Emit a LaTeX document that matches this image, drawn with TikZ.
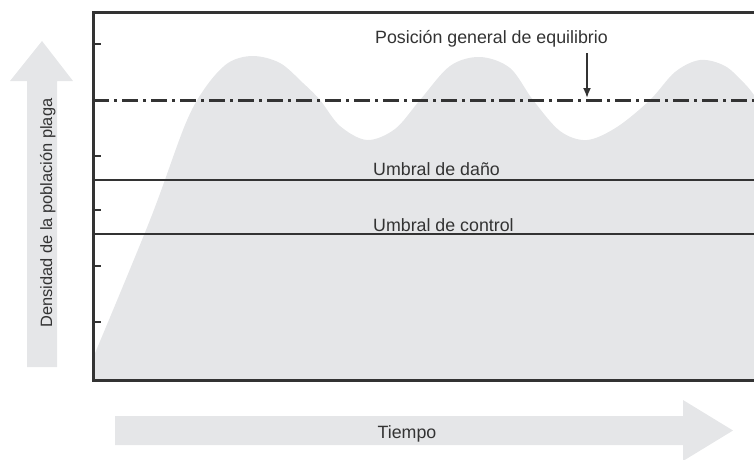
\documentclass[tikz,border=0pt]{standalone}
\usepackage{fontspec}
\setmainfont{Liberation Sans}
\usetikzlibrary{arrows.meta}
\definecolor{areagray}{HTML}{E5E6E8}
\definecolor{inkgray}{HTML}{333333}
\tikzset{
  frameline/.style={draw=inkgray, line width=3pt},
  threshline/.style={draw=inkgray, line width=2.2pt},
  eqline/.style={draw=inkgray, line width=3pt, dash pattern=on 16pt off 5pt on 3pt off 5pt},
  tickline/.style={draw=inkgray, line width=2.2pt},
  lbl/.style={inner sep=0pt, text=inkgray, font=\fontsize{17.8}{20}\selectfont},
  bigarrow/.style={fill=areagray, draw=none}
}
\begin{document}
\begin{tikzpicture}[x=1pt,y=-1pt]
\useasboundingbox (0,0) rectangle (754,459);
% population area
\fill[areagray] (93,380) -- plot[smooth, tension=0.55] coordinates {
 (93,358) (150,220) (185,125) (205,88) (228,63) (253,56) (280,63) (303,83)
 (320,100) (340,126) (367,140) (395,129) (420,100) (450,66) (480,57)
 (510,68) (533,100) (560,131) (587,140) (617,127) (650,100) (675,72)
 (700,60) (725,66) (745,84) (754,95)} -- (754,380) -- cycle;
% axis arrows
\fill[bigarrow] (27,367) -- (27,81) -- (10,81) -- (42,41) -- (73,81) -- (57,81) -- (57,367) -- cycle;
\fill[bigarrow] (115,416) -- (683,416) -- (683,400) -- (733,430.5) -- (683,461) -- (683,445) -- (115,445) -- cycle;
% ticks
\foreach \ty in {44,100,156,210,266,322} \draw[tickline] (93,\ty) -- (101,\ty);
% lines
\coordinate (eqL) at (93,100); \coordinate (eqR) at (754,100);
\draw[eqline] (eqL) -- (eqR);
\coordinate (dL) at (93,180); \coordinate (dR) at (754,180);
\draw[threshline] (dL) -- (dR);
\coordinate (cL) at (93,234); \coordinate (cR) at (754,234);
\draw[threshline] (cL) -- (cR);
% frame
\coordinate (fTR) at (754,12); \coordinate (fTL) at (93,12);
\coordinate (fBL) at (93,380); \coordinate (fBR) at (754,380);
\draw[frameline] (fTR) -- (fTL) -- (fBL) -- (fBR);
% labels
\node[lbl, anchor=base west] (eqlabel) at (375,43) {Posición general de equilibrio};
\node[lbl, anchor=base west] (dlabel) at (373,175) {Umbral de daño};
\node[lbl, anchor=base west] (clabel) at (373,231) {Umbral de control};
\node[lbl, anchor=base] (tlabel) at (407,438) {Tiempo};
\node[lbl, anchor=base, rotate=90, font=\fontsize{16.4}{19}\selectfont] (ylabel) at (52,213) {Densidad de la población plaga};
% equilibrium pointer
\coordinate (eqA) at (587,53); \coordinate (eqB) at (587,98);
\draw[inkgray, line width=1.8pt, -{Latex[length=10pt,width=8pt]}] (eqA) -- (eqB);
\end{tikzpicture}
\end{document}
